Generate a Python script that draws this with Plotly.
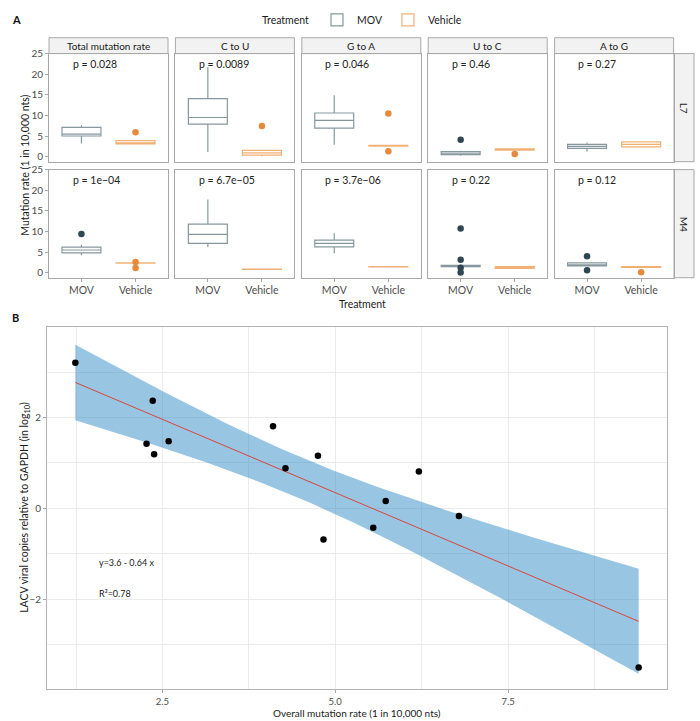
import numpy as np
import plotly.graph_objects as go

# ---------------- DATA ----------------
panels = ["Total mutation rate", "C to U", "G to A", "U to C", "A to G"]
rows = ["L7", "M4"]
treatments = ["MOV", "Vehicle"]

p_L7 = ["p = 0.028", "p = 0.0089", "p = 0.046", "p = 0.46", "p = 0.27"]
p_M4 = ["p = 1e\u221204", "p = 6.7e\u221205", "p = 3.7e\u221206", "p = 0.22", "p = 0.12"]

# box statistics per panel (L7 row)
L7_MOV_low = [3.2, 1.1, 2.9, 0.2, 1.2]
L7_MOV_q1 = [5.0, 7.9, 6.9, 0.45, 2.0]
L7_MOV_med = [5.45, 9.5, 8.8, 0.8, 2.5]
L7_MOV_q3 = [7.1, 14.1, 10.6, 1.2, 2.95]
L7_MOV_up = [7.6, 21.7, 14.9, 1.4, 3.4]
L7_MOV_out = [[], [], [], [4.1], []]

L7_VEH_low = [3.0, 0.1, 2.5, 1.45, 2.3]
L7_VEH_q1 = [3.1, 0.35, 2.55, 1.55, 2.35]
L7_VEH_med = [3.3, 0.9, 2.6, 1.7, 2.95]
L7_VEH_q3 = [3.9, 1.5, 2.7, 1.85, 3.55]
L7_VEH_up = [3.9, 1.5, 2.7, 2.0, 3.6]
L7_VEH_out = [[5.9], [7.45], [10.5, 1.3], [0.65], []]

# M4 row
M4_MOV_low = [4.2, 6.2, 4.7, 1.4, 1.6]
M4_MOV_q1 = [4.8, 7.1, 6.25, 1.45, 1.65]
M4_MOV_med = [5.5, 9.3, 7.1, 1.6, 1.9]
M4_MOV_q3 = [6.2, 11.8, 7.9, 1.75, 2.35]
M4_MOV_up = [6.8, 17.8, 9.6, 1.8, 2.4]
M4_MOV_out = [[9.4], [], [], [10.7, 3.1, 1.2, 0.0], [4.0, 0.55]]

M4_VEH_low = [2.3, 0.75, 1.35, 0.95, 1.2]
M4_VEH_q1 = [2.3, 0.8, 1.4, 1.0, 1.25]
M4_VEH_med = [2.3, 0.8, 1.4, 1.2, 1.35]
M4_VEH_q3 = [2.35, 0.85, 1.45, 1.45, 1.45]
M4_VEH_up = [2.35, 0.85, 1.45, 1.5, 1.5]
M4_VEH_out = [[2.6, 1.1], [], [], [], [0.1]]

# Panel B scatter
overall_rate = [1.24, 2.36, 2.27, 2.38, 2.59, 4.10, 4.28, 4.75, 4.83, 5.55, 5.73, 6.21, 6.79, 9.39]
viral_copies = [3.21, 2.37, 1.42, 1.19, 1.48, 1.81, 0.88, 1.16, -0.69, -0.43, 0.16, 0.81, -0.17, -3.51]
eq_text = "y=3.6 - 0.64 x"
r2_text = "R\u00b2=0.78"

# ---------------- STYLE ----------------
W, H = 700, 721
FONT = "Lato"
MOV_LINE = "rgba(60,88,98,0.62)"
MOV_PT = "#2E4753"
VEH_LINE = "rgba(236,150,70,0.75)"
VEH_PT = "#E58A3A"
BORDER = "#A8A8A8"
TICKC = "#4D4D4D"
GRID = "#EBEBEB"


def xd(a, b):
    return [a / W, b / W]


def yd(top, bottom):
    return [1 - bottom / H, 1 - top / H]


col_x = [(49, 168), (175.4, 294.4), (301.8, 420.8), (428.2, 547.2), (554.6, 673.6)]
row_y = [(48, 157), (165, 274)]

stats = {
    ("L7", "MOV"): (L7_MOV_low, L7_MOV_q1, L7_MOV_med, L7_MOV_q3, L7_MOV_up, L7_MOV_out),
    ("L7", "Vehicle"): (L7_VEH_low, L7_VEH_q1, L7_VEH_med, L7_VEH_q3, L7_VEH_up, L7_VEH_out),
    ("M4", "MOV"): (M4_MOV_low, M4_MOV_q1, M4_MOV_med, M4_MOV_q3, M4_MOV_up, M4_MOV_out),
    ("M4", "Vehicle"): (M4_VEH_low, M4_VEH_q1, M4_VEH_med, M4_VEH_q3, M4_VEH_up, M4_VEH_out),
}
pvals = {"L7": p_L7, "M4": p_M4}

fig = go.Figure()
layout = {}
annotations = []
shapes = []

for r, row in enumerate(rows):
    for c, pan in enumerate(panels):
        idx = r * 5 + c + 1
        xa = "x" if idx == 1 else f"x{idx}"
        ya = "y" if idx == 1 else f"y{idx}"
        for t_i, tr in enumerate(treatments):
            low, q1, med, q3, up, out = stats[(row, tr)]
            lc = MOV_LINE if tr == "MOV" else VEH_LINE
            pc = MOV_PT if tr == "MOV" else VEH_PT
            xpos = t_i + 1
            fig.add_trace(go.Box(
                x=[xpos], q1=[q1[c]], median=[med[c]], q3=[q3[c]],
                lowerfence=[low[c]], upperfence=[up[c]],
                boxpoints=False, width=0.72, whiskerwidth=0,
                fillcolor="rgba(255,255,255,0)", line=dict(color=lc, width=1.2),
                name=tr, legendgroup=tr, showlegend=(idx == 1),
                xaxis=xa, yaxis=ya, hoverinfo="skip"))
            if out[c]:
                fig.add_trace(go.Scatter(
                    x=[xpos] * len(out[c]), y=out[c], mode="markers",
                    marker=dict(color=pc, size=6.5), showlegend=False,
                    xaxis=xa, yaxis=ya, hoverinfo="skip"))
        kx = "xaxis" if idx == 1 else f"xaxis{idx}"
        ky = "yaxis" if idx == 1 else f"yaxis{idx}"
        layout[kx] = dict(
            domain=xd(*col_x[c]), anchor=ya, range=[0.4, 2.6],
            tickvals=[1, 2], ticktext=treatments,
            showticklabels=(r == 1), ticks="outside" if r == 1 else "",
            ticklen=3, tickcolor=BORDER, tickfont=dict(size=10.5, color=TICKC, family=FONT),
            showgrid=False, zeroline=False, showline=True, mirror=True,
            linecolor=BORDER, linewidth=1, fixedrange=True)
        layout[ky] = dict(
            domain=yd(*row_y[r]), anchor=xa, range=[-1.25, 25.05],
            tickvals=[0, 5, 10, 15, 20, 25],
            showticklabels=(c == 0), ticks="outside" if c == 0 else "",
            ticklen=3, tickcolor=BORDER, tickfont=dict(size=10, color=TICKC, family=FONT),
            showgrid=False, zeroline=False, showline=True, mirror=True,
            linecolor=BORDER, linewidth=1, fixedrange=True)
        annotations.append(dict(
            x=0.8, y=22.6, xref=xa, yref=ya, text=pvals[row][c], showarrow=False,
            xanchor="left", yanchor="middle", font=dict(size=10.5, color="#222222", family=FONT)))

# top strips
for c, pan in enumerate(panels):
    a, b = col_x[c]
    shapes.append(dict(type="rect", xref="paper", yref="paper",
                       x0=a / W, x1=b / W, y0=1 - 48 / H, y1=1 - 32 / H,
                       fillcolor="#F2F2F2", line=dict(color=BORDER, width=1), layer="below"))
    annotations.append(dict(x=(a + b) / 2 / W, y=1 - 40 / H, xref="paper", yref="paper",
                            text=pan, showarrow=False, xanchor="center", yanchor="middle",
                            font=dict(size=10, color="#1A1A1A", family=FONT)))
# right strips
for r, row in enumerate(rows):
    t, b = row_y[r]
    shapes.append(dict(type="rect", xref="paper", yref="paper",
                       x0=674 / W, x1=694 / W, y0=1 - b / H, y1=1 - t / H,
                       fillcolor="#F2F2F2", line=dict(color=BORDER, width=1), layer="below"))
    annotations.append(dict(x=684 / W, y=1 - (t + b) / 2 / H, xref="paper", yref="paper",
                            text=row, showarrow=False, textangle=90, xanchor="center", yanchor="middle",
                            font=dict(size=10, color="#1A1A1A", family=FONT)))

# legend title & axis titles panel A
annotations.append(dict(x=285 / W, y=1 - 14 / H, xref="paper", yref="paper", text="Treatment",
                        showarrow=False, xanchor="center", yanchor="middle",
                        font=dict(size=10.5, color="#1A1A1A", family=FONT)))
annotations.append(dict(x=362 / W, y=1 - 300 / H, xref="paper", yref="paper", text="Treatment",
                        showarrow=False, xanchor="center", yanchor="middle",
                        font=dict(size=10.5, color="#1A1A1A", family=FONT)))
annotations.append(dict(x=25 / W, y=1 - 161 / H, xref="paper", yref="paper",
                        text="Mutation rate (1 in 10,000 nts)", textangle=-90,
                        showarrow=False, xanchor="center", yanchor="middle",
                        font=dict(size=10.5, color="#1A1A1A", family=FONT)))
# panel letters
annotations.append(dict(x=10 / W, y=1 - 14 / H, xref="paper", yref="paper", text="<b>A</b>",
                        showarrow=False, xanchor="left", yanchor="middle",
                        font=dict(size=11, color="#111111", family=FONT)))
annotations.append(dict(x=10 / W, y=1 - 314 / H, xref="paper", yref="paper", text="<b>B</b>",
                        showarrow=False, xanchor="left", yanchor="middle",
                        font=dict(size=11, color="#111111", family=FONT)))

# ---------------- PANEL B ----------------
xs = np.array(overall_rate)
ys = np.array(viral_copies)
slope, intercept = np.polyfit(xs, ys, 1)
n = len(xs)
resid = ys - (intercept + slope * xs)
s = np.sqrt(np.sum(resid ** 2) / (n - 2))
sxx = np.sum((xs - xs.mean()) ** 2)
grid = np.linspace(xs.min(), xs.max(), 80)
fit = intercept + slope * grid
se = s * np.sqrt(1 / n + (grid - xs.mean()) ** 2 / sxx)
tq = 2.179
upper = fit + tq * se
lower = fit - tq * se

fig.add_trace(go.Scatter(
    x=np.concatenate([grid, grid[::-1]]), y=np.concatenate([upper, lower[::-1]]),
    fill="toself", fillcolor="rgba(58,146,199,0.52)", line=dict(width=0),
    mode="lines", showlegend=False, xaxis="x11", yaxis="y11", hoverinfo="skip"))
fig.add_trace(go.Scatter(
    x=grid, y=fit, mode="lines", line=dict(color="#D9453B", width=1),
    showlegend=False, xaxis="x11", yaxis="y11", hoverinfo="skip"))
fig.add_trace(go.Scatter(
    x=xs, y=ys, mode="markers", marker=dict(color="black", size=6.5),
    showlegend=False, xaxis="x11", yaxis="y11", hoverinfo="skip"))

layout["xaxis11"] = dict(
    domain=xd(47, 667), anchor="y11", range=[0.83, 9.80],
    tickvals=[2.5, 5.0, 7.5], ticktext=["2.5", "5.0", "7.5"],
    ticks="outside", ticklen=3, tickcolor=BORDER,
    tickfont=dict(size=9.5, color=TICKC, family=FONT),
    showgrid=True, gridcolor=GRID, gridwidth=1,
    minor=dict(tickvals=[1.25, 3.75, 6.25, 8.75], showgrid=True, gridcolor=GRID, gridwidth=1),
    zeroline=False, showline=True, mirror=True, linecolor="#B3B3B3", linewidth=1, fixedrange=True)
layout["yaxis11"] = dict(
    domain=yd(324, 689), anchor="x11", range=[-3.99, 3.99],
    tickvals=[-2, 0, 2], ticktext=["\u22122", "0", "2"],
    ticks="outside", ticklen=3, tickcolor=BORDER,
    tickfont=dict(size=10, color=TICKC, family=FONT),
    showgrid=True, gridcolor=GRID, gridwidth=1,
    minor=dict(tickvals=[-3, -1, 1, 3], showgrid=True, gridcolor=GRID, gridwidth=1),
    zeroline=False, showline=True, mirror=True, linecolor="#B3B3B3", linewidth=1, fixedrange=True)

annotations.append(dict(x=1.55, y=-1.2, xref="x11", yref="y11", text=eq_text, showarrow=False,
                        xanchor="left", yanchor="middle", font=dict(size=9, color="#1A1A1A", family=FONT)))
annotations.append(dict(x=1.55, y=-1.87, xref="x11", yref="y11", text=r2_text, showarrow=False,
                        xanchor="left", yanchor="middle", font=dict(size=9, color="#1A1A1A", family=FONT)))
annotations.append(dict(x=357 / W, y=1 - 712.5 / H, xref="paper", yref="paper",
                        text="Overall mutation rate (1 in 10,000 nts)", showarrow=False,
                        xanchor="center", yanchor="middle", font=dict(size=10, color="#1A1A1A", family=FONT)))
annotations.append(dict(x=25 / W, y=1 - 506 / H, xref="paper", yref="paper",
                        text="LACV viral copies relative to GAPDH (in log<sub>10</sub>)", textangle=-90,
                        showarrow=False, xanchor="center", yanchor="middle",
                        font=dict(size=10.5, color="#1A1A1A", family=FONT)))

fig.update_layout(
    width=W, height=H, margin=dict(l=0, r=0, t=0, b=0),
    paper_bgcolor="white", plot_bgcolor="white",
    boxmode="overlay",
    font=dict(family=FONT, size=10, color="#1A1A1A"),
    annotations=annotations, shapes=shapes,
    legend=dict(orientation="h", x=317 / W, y=1 - 14 / H, xanchor="left", yanchor="middle",
                font=dict(size=10.5, family=FONT), bgcolor="rgba(0,0,0,0)",
                itemwidth=30, tracegroupgap=0),
    **layout,
)

fig.write_html(
    "out.html",
    config={"displayModeBar": False},
    post_script="document.body.style.margin='0px';document.body.style.overflow='hidden';",
)
